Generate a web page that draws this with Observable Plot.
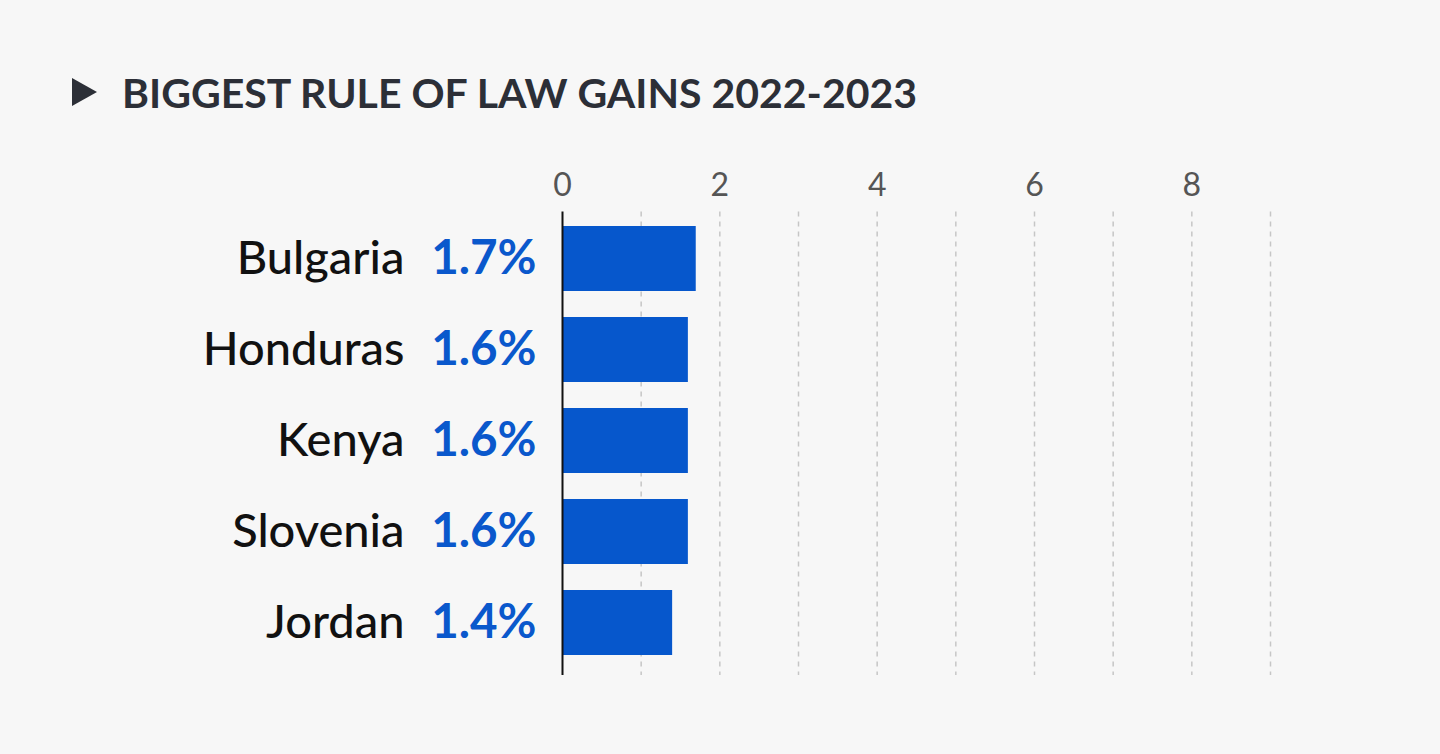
<!DOCTYPE html>
<html>
<head>
<meta charset="utf-8">
<script src="https://cdn.jsdelivr.net/npm/d3@7"></script>
<script src="https://cdn.jsdelivr.net/npm/@observablehq/plot@0.6"></script>
<style>
  html, body { margin: 0; padding: 0; background: #f7f7f7; }
  #wrap { position: relative; width: 1440px; height: 754px; font-family: Lato, sans-serif; overflow: hidden; }
  #title { position: absolute; left: 72px; top: 69px; height: 46px; display: flex; align-items: center; z-index: 2; }
  #title .marker { width: 0; height: 0; border-left: 25px solid #2c2f37; border-top: 14.5px solid transparent; border-bottom: 14.5px solid transparent; margin-right: 25px; }
  #title h1 { margin: 0; font-size: 41px; font-weight: 700; color: #2c2f37; letter-spacing: 0; line-height: 1; }
  #chart { position: absolute; left: 0; top: 0; }
</style>
</head>
<body>
<div id="wrap">
  <div id="title"><span class="marker"></span><h1>BIGGEST RULE OF LAW GAINS 2022-2023</h1></div>
  <div id="chart"></div>
</div>
<script>
// Countries and their rule-of-law score gains (percent)
const countries = ["Bulgaria", "Honduras", "Kenya", "Slovenia", "Jordan"];
const gains = [1.7, 1.6, 1.6, 1.6, 1.4];
// Labelled ticks along the top and the dashed reference lines
const tickValues = [0, 2, 4, 6, 8];
const gridValues = [1, 2, 3, 4, 5, 6, 7, 8, 9];

const data = countries.map((country, i) => ({country, gain: gains[i]}));

const chart = Plot.plot({
  width: 1440,
  height: 754,
  marginLeft: 562,
  marginRight: 170,
  marginTop: 198.5,
  marginBottom: 72,
  style: {background: "transparent", fontFamily: "Lato, sans-serif"},
  x: {domain: [0, 9], axis: null},
  y: {domain: countries, padding: 0.29, axis: null},
  marks: [
    Plot.ruleX(gridValues, {stroke: "#c6c6c6", strokeWidth: 1.5, strokeDasharray: "5,5", insetTop: 13, insetBottom: 7}),
    Plot.barX(data, {y: "country", x: "gain", fill: "#0657cc"}),
    Plot.ruleX([0], {stroke: "#111", strokeWidth: 2, insetTop: 13, insetBottom: 7}),
    Plot.axisX({anchor: "top", ticks: tickValues, tickSize: 0, tickPadding: 3, fontSize: 32, color: "#555", label: null}),
    Plot.text(data, {y: "country", x: 0, text: "country", textAnchor: "end", dx: -158, fontSize: 47, fontWeight: 500, fill: "#111"}),
    Plot.text(data, {y: "country", x: 0, text: d => d.gain.toFixed(1) + "%", textAnchor: "end", dx: -26, fontSize: 47.5, fontWeight: 700, fill: "#0a58cc"})
  ]
});
document.getElementById("chart").appendChild(chart);
</script>
</body>
</html>
